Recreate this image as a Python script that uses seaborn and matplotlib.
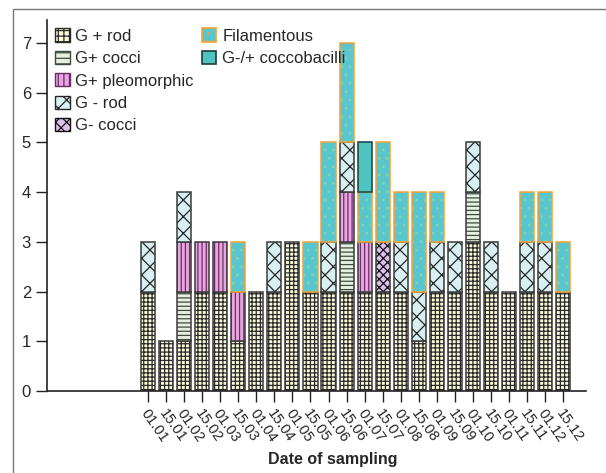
import numpy as np
import pandas as pd
import matplotlib
matplotlib.use("Agg")
import matplotlib.pyplot as plt
import seaborn as sns
from matplotlib.patches import Patch, Rectangle

# sampling dates (x categories)
dates = ["01.01", "15.01", "01.02", "15.02", "01.03", "15.03", "01.04", "15.04",
         "01.05", "15.05", "01.06", "15.06", "01.07", "15.07", "01.08", "15.08",
         "01.09", "15.09", "01.10", "15.10", "01.11", "15.11", "01.12", "15.12"]

# counts per morphotype (stacked bottom -> top)
g_pos_rod = [2, 1, 1, 2, 2, 1, 2, 2, 3, 2, 2, 2, 2, 2, 2, 1, 2, 2, 3, 2, 2, 2, 2, 2]
g_pos_cocci = [0, 0, 1, 0, 0, 0, 0, 0, 0, 0, 0, 1, 0, 0, 0, 0, 0, 0, 1, 0, 0, 0, 0, 0]
g_pos_pleo = [0, 0, 1, 1, 1, 1, 0, 0, 0, 0, 0, 1, 1, 0, 0, 0, 0, 0, 0, 0, 0, 0, 0, 0]
g_neg_rod = [1, 0, 1, 0, 0, 0, 0, 1, 0, 0, 1, 1, 0, 0, 1, 1, 1, 1, 1, 1, 0, 1, 1, 0]
g_neg_cocci = [0, 0, 0, 0, 0, 0, 0, 0, 0, 0, 0, 0, 0, 1, 0, 0, 0, 0, 0, 0, 0, 0, 0, 0]
filamentous = [0, 0, 0, 0, 0, 1, 0, 0, 0, 1, 2, 2, 1, 2, 1, 2, 1, 0, 0, 0, 0, 1, 1, 1]
coccobacilli = [0, 0, 0, 0, 0, 0, 0, 0, 0, 0, 0, 0, 1, 0, 0, 0, 0, 0, 0, 0, 0, 0, 0, 0]

# label, values, fill, hatch, hatch colour, edge colour
layers = [
    ("G + rod", g_pos_rod, "#fbfbdc", "++++", "#2a2a2a", "#3a3a3a"),
    ("G+ cocci", g_pos_cocci, "#e6efe2", "----", "#3c4c3c", "#3a3a3a"),
    ("G+ pleomorphic", g_pos_pleo, "#e8a6de", "||||", "#6a2c68", "#3a3a3a"),
    ("G - rod", g_neg_rod, "#d8f0f2", "xx", "#262626", "#3a3a3a"),
    ("G- cocci", g_neg_cocci, "#dcc0ec", "xxxx", "#111111", "#3a3a3a"),
    ("Filamentous", filamentous, "#58c6cc", "..", "#7ed2bc", "#f5a132"),
    ("G-/+ coccobacilli", coccobacilli, "#4fc3c0", None, "#4fc3c0", "#1e3c3c"),
]

sns.set_style("ticks")
plt.rcParams["font.family"] = ["Liberation Sans", "DejaVu Sans"]
plt.rcParams["hatch.linewidth"] = 0.9

fig = plt.figure(figsize=(6.06, 4.73), dpi=100)
ax = fig.add_axes([0.0776, 0.1734, 0.8894, 0.7843])

bottom = np.zeros(len(dates))
handles = []
for label, vals, fill, hatch, hcol, ecol in layers:
    vals = np.array(vals, dtype=float)
    keep = vals > 0
    df = pd.DataFrame({"date": np.array(dates)[keep], "n": vals[keep]})
    # fill + hatch
    sns.barplot(data=df, x="date", y="n", order=dates, bottom=bottom[keep],
                color=fill, saturation=1, hatch=hatch, edgecolor=hcol,
                linewidth=0, width=0.78, errorbar=None, ax=ax)
    # outline
    sns.barplot(data=df, x="date", y="n", order=dates, bottom=bottom[keep],
                fill=False, color=ecol, edgecolor=ecol, linewidth=1.1,
                width=0.78, errorbar=None, ax=ax)
    bottom += vals
    if hatch is None:
        handles.append(Patch(facecolor=fill, edgecolor=ecol, linewidth=1.2, label=label))
    elif label == "Filamentous":
        handles.append(Patch(facecolor=fill, edgecolor=ecol, hatch="..", linewidth=1.2, label=label))
    else:
        handles.append(Patch(facecolor=fill, edgecolor=hcol, hatch=hatch[:3], linewidth=1.0, label=label))

# pad second legend column so it holds only two entries
blank = Patch(facecolor="none", edgecolor="none", label=" ")
leg_handles = handles[:5] + handles[5:] + [blank, blank, blank]

ax.set_xlim(-5.6, 24.27)
ax.set_ylim(0, 7.46)
ax.set_yticks(range(0, 8))
ax.tick_params(axis="y", labelsize=12, length=8, width=1, color="#222222")
ax.tick_params(axis="x", labelsize=10.5, length=8, width=1, color="#222222")
ax.set_xticks(range(len(dates)))
ax.set_xticklabels(dates, rotation=-55, ha="left", va="center",
                   rotation_mode="anchor")
for lab in ax.get_xticklabels():
    lab.set_transform(lab.get_transform() + matplotlib.transforms.ScaledTranslation(-3/72, -3/72, fig.dpi_scale_trans))

sns.despine(ax=ax)
for s in ["left", "bottom"]:
    ax.spines[s].set_linewidth(1.2)
    ax.spines[s].set_color("#222222")

ax.set_xlabel("Date of sampling", fontsize=11.5, fontweight="bold")
ax.xaxis.set_label_coords(0.531, -0.165)
ax.set_ylabel("")

ax.legend(handles=leg_handles, ncol=2, frameon=False, fontsize=12,
          loc="upper left", bbox_to_anchor=(0.0, 1.0), handlelength=0.85,
          handleheight=0.85, handletextpad=0.35, labelspacing=0.42,
          columnspacing=0.5, borderaxespad=0.1)

# thin frame around the figure (left and top visible)
fig.patches.append(Rectangle((13/606, -0.01), 1.1, 1 - 9/473 + 0.01,
                             transform=fig.transFigure, fill=False,
                             edgecolor="#777777", linewidth=1.0))

fig.savefig("out.png", dpi=100)
